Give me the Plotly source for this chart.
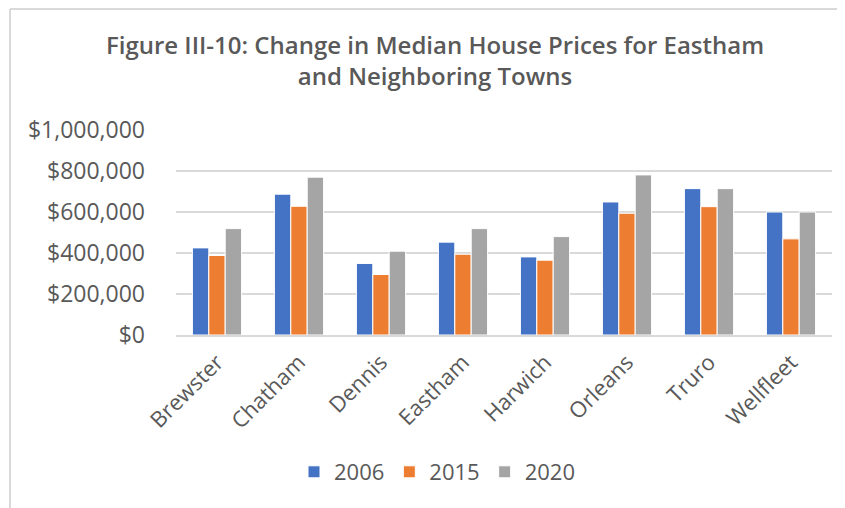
import plotly.graph_objects as go

towns = ["Brewster", "Chatham", "Dennis", "Eastham", "Harwich", "Orleans", "Truro", "Wellfleet"]
v2006 = [425000, 687000, 349000, 453000, 381000, 649000, 714000, 600000]
v2015 = [388000, 628000, 295000, 394000, 365000, 594000, 626000, 469000]
v2020 = [519000, 770000, 409000, 519000, 480000, 781000, 714000, 600000]
years = ["2006", "2015", "2020"]
colors = ["#4472C4", "#ED7D31", "#A5A5A5"]
tick_vals = [0, 200000, 400000, 600000, 800000, 1000000]
tick_text = ["$0", "$200,000", "$400,000", "$600,000", "$800,000", "$1,000,000"]

FONT = "Open Sans"
GREY = "#595959"

OFF = 8  # browser body margin
W, H = 837, 500
L, T = 176 - OFF, 130 - OFF
R = W - (832 - OFF)
B = H - (335 - OFF)

fig = go.Figure()
for name, vals, col in zip(years, [v2006, v2015, v2020], colors):
    fig.add_trace(go.Bar(x=towns, y=vals, name=name, marker_color=col,
                         marker_line_color="white", marker_line_width=1))

pw = W - L - R
ph = H - T - B
def px_x(p):
    return (p - OFF - L) / pw
def px_y(p):
    return (H - B - (p - OFF)) / ph

fig.update_layout(
    width=W, height=H,
    margin=dict(l=L, r=R, t=T, b=B),
    paper_bgcolor="white", plot_bgcolor="white",
    barmode="group", bargap=0.4, bargroupgap=0,
    font=dict(family=FONT, color=GREY),
    title=dict(text="Figure III-10: Change in Median House Prices for Eastham<br>and Neighboring Towns",
               x=(435 - OFF) / W, xanchor="center", xref="container",
               y=1 - (54 - OFF) / H, yanchor="top", yref="container",
               font=dict(family=FONT, size=24, color=GREY, weight=600)),
    legend=dict(orientation="h", x=(437 - OFF) / W, xanchor="center", xref="container",
                y=1 - (472 - OFF) / H, yanchor="middle", yref="container",
                font=dict(family=FONT, size=22, color=GREY),
                itemwidth=30, traceorder="normal"),
    xaxis=dict(tickangle=-45, tickfont=dict(family=FONT, size=22, color=GREY),
               showgrid=False, showline=True, linecolor="#d9d9d9", linewidth=1.5,
               ticklabelstandoff=4),
    yaxis=dict(range=[0, 1000000], tickvals=tick_vals, ticktext=tick_text,
               tickfont=dict(family=FONT, size=23, color=GREY),
               showgrid=True, gridcolor="#d9d9d9", gridwidth=1.5,
               zeroline=False, showline=False, ticklabelstandoff=30),
    shapes=[
        dict(type="line", xref="paper", yref="paper", x0=px_x(10), x1=px_x(10),
             y0=px_y(9), y1=px_y(512), line=dict(color="#d9d9d9", width=2)),
        dict(type="line", xref="paper", yref="paper", x0=px_x(10), x1=px_x(850),
             y0=px_y(9), y1=px_y(9), line=dict(color="#d9d9d9", width=2)),
    ],
)

fig.write_html("out.html")
